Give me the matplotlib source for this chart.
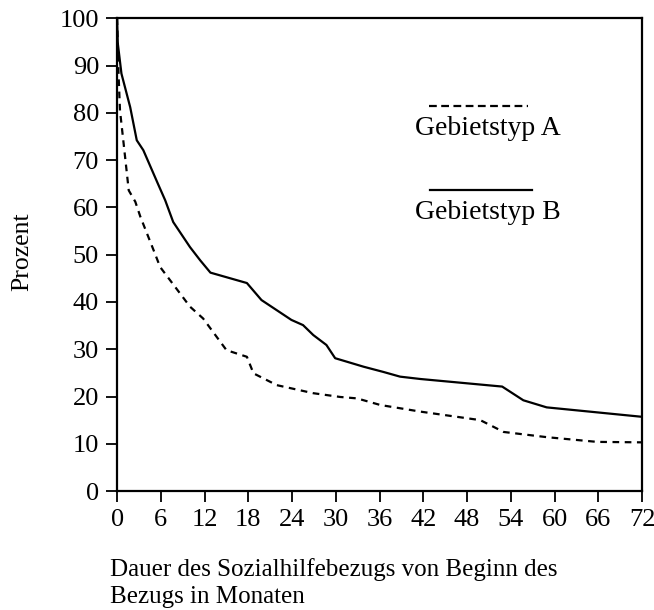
import matplotlib
matplotlib.use('Agg')
import matplotlib.pyplot as plt

plt.rcParams['font.family'] = ['Liberation Serif', 'DejaVu Serif']

# Gebietstyp B (solid)
months_b = [0, 0.1, 0.6, 1.8, 2.7, 3.6, 5.6, 6.6, 7.7, 10.0, 11.4, 12.8, 17.8, 19.8,
            23.9, 25.5, 26.9, 28.7, 29.9, 33.8, 36.5, 38.8, 41.6, 52.8, 55.7, 58.9, 72]
share_b = [100, 94.7, 88.3, 81.2, 74.2, 72.1, 65.0, 61.5, 56.9, 51.6, 48.8, 46.2, 44.0, 40.4,
           36.2, 35.1, 33.0, 30.9, 28.1, 26.3, 25.2, 24.2, 23.7, 22.1, 19.2, 17.7, 15.7]

# Gebietstyp A (dashed)
months_a = [0, 0.2, 0.4, 0.9, 1.6, 2.5, 3.2, 5.2, 5.9, 10.0, 11.8, 15.0, 17.8, 18.7,
            21.9, 26.9, 30.6, 32.9, 36.1, 41.6, 49.8, 53.0, 58.9, 65.8, 72]
share_a = [100, 88.3, 80.5, 73.5, 63.6, 61.2, 58.0, 50.2, 47.4, 39.0, 36.5, 29.8, 28.4, 24.9,
           22.4, 20.7, 19.9, 19.6, 18.2, 16.8, 15.0, 12.5, 11.4, 10.4, 10.3]

xticks = list(range(0, 73, 6))
yticks = list(range(0, 101, 10))

fig = plt.figure(figsize=(6.54, 6.10), dpi=100)
ax = fig.add_axes([0.179, 0.195, 0.803, 0.775])

ax.plot(months_b, share_b, color='black', lw=1.6, ls='-')
ax.plot(months_a, share_a, color='black', lw=1.6, ls=(0, (3, 2.5)))

ax.set_xlim(0, 72)
ax.set_ylim(0, 100)
ax.set_xticks(xticks)
ax.set_yticks(yticks)
ax.tick_params(direction='out', length=8, width=1.3, labelsize=19, pad=5, colors='black')
for s in ax.spines.values():
    s.set_linewidth(1.6)

ax.set_ylabel('Prozent', fontsize=18.5)
ax.yaxis.set_label_coords(-0.16, 0.507)

# legend drawn as in the original: line above text
ax.plot([0.594, 0.783], [0.814, 0.814], transform=ax.transAxes, color='black',
        lw=1.6, ls=(0, (3.5, 2)))
ax.text(0.568, 0.767, 'Gebietstyp A', transform=ax.transAxes, fontsize=20, va='center')
ax.plot([0.596, 0.79], [0.636, 0.636], transform=ax.transAxes, color='black', lw=1.6)
ax.text(0.568, 0.59, 'Gebietstyp B', transform=ax.transAxes, fontsize=20, va='center')

fig.text(0.168, 0.085, 'Dauer des Sozialhilfebezugs von Beginn des\nBezugs in Monaten',
         fontsize=18, ha='left', va='top', linespacing=1.3)

plt.savefig('out.png', dpi=100)
